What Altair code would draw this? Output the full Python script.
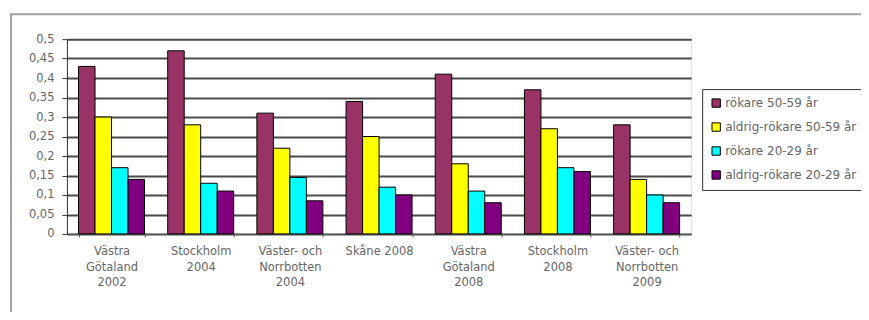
import altair as alt
import pandas as pd

categories = [
    "Västra|Götaland|2002",
    "Stockholm|2004",
    "Väster- och|Norrbotten|2004",
    "Skåne 2008",
    "Västra|Götaland|2008",
    "Stockholm|2008",
    "Väster- och|Norrbotten|2009",
]
series = ["rökare 50-59 år", "aldrig-rökare 50-59 år", "rökare 20-29 år", "aldrig-rökare 20-29 år"]
colors = ["#993366", "#FFFF00", "#00FFFF", "#800080"]

smokers_50_59 = [0.43, 0.47, 0.31, 0.34, 0.41, 0.37, 0.28]
never_50_59 = [0.30, 0.28, 0.22, 0.25, 0.18, 0.27, 0.14]
smokers_20_29 = [0.17, 0.13, 0.145, 0.12, 0.11, 0.17, 0.10]
never_20_29 = [0.14, 0.11, 0.085, 0.10, 0.08, 0.16, 0.08]

rows = []
for s, vals in zip(series, [smokers_50_59, never_50_59, smokers_20_29, never_20_29]):
    for c, v in zip(categories, vals):
        rows.append({"category": c, "series": s, "value": v})
df = pd.DataFrame(rows)

font = "DejaVu Sans"
textcol = "#666666"

frame = alt.Chart(pd.DataFrame({"a": [0]})).mark_rect(
    fillOpacity=0, stroke="#a0a0a0", strokeWidth=2
).encode(x=alt.value(-56), x2=alt.value(900), y=alt.value(-25), y2=alt.value(300))

bars = alt.Chart(df).mark_bar(stroke="black", strokeWidth=1).encode(
    x=alt.X(
        "category:N",
        sort=categories,
        scale=alt.Scale(paddingInner=0.26, paddingOuter=0.13),
        axis=alt.Axis(
            title=None,
            labelAngle=0,
            labelExpr="isValid(datum.value) ? split(datum.value, '|') : ''",
            labelFont=font,
            labelFontSize=11.5,
            labelColor=textcol,
            labelLineHeight=15.5,
            labelPadding=9,
            labelBaseline="top",
            domainColor="#555555",
            tickColor="#555555",
            tickBand="extent",
            tickSize=3,
            grid=False,
        ),
    ),
    xOffset=alt.XOffset("series:N", sort=series, scale=alt.Scale(paddingInner=0, paddingOuter=0)),
    y=alt.Y(
        "value:Q",
        scale=alt.Scale(domain=[0, 0.5], nice=False),
        axis=alt.Axis(
            title=None,
            values=[0, 0.05, 0.1, 0.15, 0.2, 0.25, 0.3, 0.35, 0.4, 0.45, 0.5],
            labelExpr="replace(format(datum.value, '.2~f'), '.', ',')",
            labelFont=font,
            labelFontSize=11.5,
            labelColor=textcol,
            labelPadding=8,
            domainColor="#333333",
            tickColor="#333333",
            tickSize=5,
            gridColor="#4a4a4a",
            gridWidth=2,
        ),
    ),
    color=alt.Color(
        "series:N",
        sort=series,
        scale=alt.Scale(domain=series, range=colors),
        legend=alt.Legend(
            title=None,
            orient="none",
            legendX=636,
            legendY=50,
            symbolType="square",
            symbolSize=70,
            symbolStrokeColor="black",
            symbolStrokeWidth=1,
            labelFont=font,
            labelFontSize=12,
            labelColor=textcol,
            labelOffset=3,
            strokeColor="#333333",
            padding=8,
            rowPadding=10,
            labelLimit=300,
        ),
    ),
)

chart = alt.layer(frame, bars).properties(
    width=625,
    height=195,
    padding={"left": 59, "top": 31, "right": 170, "bottom": 78},
    autosize=alt.AutoSizeParams(type="none"),
).configure_view(stroke="#cccccc", strokeWidth=1).configure(background="white")

chart.save("out.html", embed_options={"renderer": "svg", "actions": False})
